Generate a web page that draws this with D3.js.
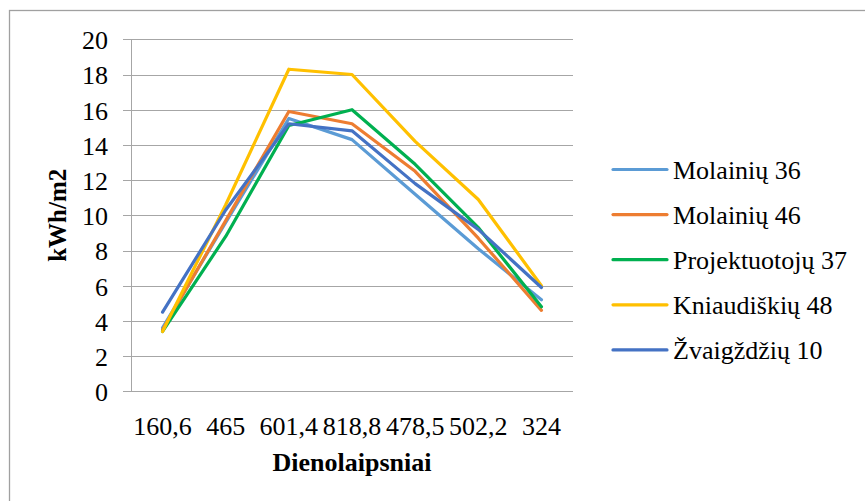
<!DOCTYPE html>
<html lang="lt">
<head>
<meta charset="UTF-8" />
<title>Dienolaipsniai</title>
<style>
  html, body {
    margin: 0;
    padding: 0;
    background: #fff;
    overflow: hidden;
  }
  svg {
    display: block;
  }
  .grid line {
    stroke: #a6a6a6;
    stroke-width: 1px;
  }
  .series {
    fill: none;
    stroke-width: 3.2px;
    stroke-linejoin: round;
    stroke-linecap: round;
  }
</style>
</head>
<body>
<svg width="865" height="501"></svg>

<script src="https://d3js.org/d3.v7.min.js"></script>
<script>
// data
const categories = ["160,6", "465", "601,4", "818,8", "478,5", "502,2", "324"];
const seriesNames = ["Molainių 36", "Molainių 46", "Projektuotojų 37", "Kniaudiškių 48", "Žvaigždžių 10"];
const molainiu36 = [3.6, 9.6, 15.5, 14.3, 11.2, 8.1, 5.2];
const molainiu46 = [3.5, 9.7, 15.9, 15.2, 12.5, 8.7, 4.6];
const projektuotoju37 = [3.4, 8.8, 15.1, 16.0, 12.9, 9.3, 4.8];
const kniaudiskiu48 = [3.4, 10.6, 18.3, 18.0, 14.2, 10.9, 6.0];
const zvaigzdziu10 = [4.5, 10.3, 15.2, 14.8, 11.8, 9.2, 5.9];
const yTicks = [0, 2, 4, 6, 8, 10, 12, 14, 16, 18, 20];

const colors = ["#5B9BD5", "#ED7D31", "#00B050", "#FFC000", "#4472C4"];
const seriesValues = [molainiu36, molainiu46, projektuotoju37, kniaudiskiu48, zvaigzdziu10];

const serif = "Liberation Serif, DejaVu Serif, serif";
const svg = d3.select("svg");

// outer chart border (runs off the right/bottom of the picture)
svg.append("rect")
  .attr("x", 9.5).attr("y", 10.5)
  .attr("width", 900).attr("height", 520)
  .attr("fill", "none")
  .attr("stroke", "#a0a0a0")
  .attr("stroke-width", 1.3);

const plot = { left: 131, top: 39.3, right: 573, bottom: 391.3 };

const x = d3.scaleBand()
  .domain(categories)
  .range([plot.left, plot.right])
  .padding(0);

const y = d3.scaleLinear()
  .domain([0, 20])
  .range([plot.bottom, plot.top]);

// horizontal gridlines, sticking a bit out to the left of the axis
svg.append("g")
  .attr("class", "grid")
  .selectAll("line")
  .data(yTicks)
  .join("line")
  .attr("x1", plot.left - 8)
  .attr("x2", plot.right)
  .attr("y1", d => Math.round(y(d)) + 0.5)
  .attr("y2", d => Math.round(y(d)) + 0.5);

// vertical axis line
svg.append("line")
  .attr("x1", plot.left + 0.5).attr("x2", plot.left + 0.5)
  .attr("y1", y(20)).attr("y2", y(0))
  .attr("stroke", "#a6a6a6");

// y tick labels
const yAxis = d3.axisLeft(y)
  .tickValues(yTicks)
  .tickSize(0)
  .tickPadding(23);

svg.append("g")
  .attr("transform", `translate(${plot.left},0)`)
  .call(yAxis)
  .attr("font-family", serif)
  .attr("font-size", 26)
  .call(g => g.select(".domain").remove())
  .call(g => g.selectAll("text")
    .attr("fill", "#000")
    .attr("dy", "0.36em"));

// x tick labels
const xAxis = d3.axisBottom(x).tickSize(0).tickPadding(0);
svg.append("g")
  .attr("transform", `translate(0,${plot.bottom})`)
  .call(xAxis)
  .attr("font-family", serif)
  .attr("font-size", 26)
  .call(g => g.select(".domain").remove())
  .call(g => g.selectAll("text")
    .attr("fill", "#000")
    .attr("dy", null)
    .attr("y", 435 - plot.bottom));

// axis titles
svg.append("text")
  .attr("x", (plot.left + plot.right) / 2)
  .attr("y", 471)
  .attr("text-anchor", "middle")
  .attr("font-family", serif)
  .attr("font-size", 26)
  .attr("font-weight", "bold")
  .text("Dienolaipsniai");

svg.append("text")
  .attr("transform", `translate(66,${(plot.top + plot.bottom) / 2}) rotate(-90)`)
  .attr("text-anchor", "middle")
  .attr("font-family", serif)
  .attr("font-size", 25)
  .attr("font-weight", "bold")
  .text("kWh/m2");

// series lines
const line = d3.line()
  .x((d, i) => x(categories[i]) + x.bandwidth() / 2)
  .y(d => y(d));

svg.append("g")
  .selectAll("path")
  .data(seriesValues)
  .join("path")
  .attr("class", "series")
  .attr("stroke", (d, i) => colors[i])
  .attr("d", line);

// legend
const legend = svg.append("g")
  .attr("font-family", serif)
  .attr("font-size", 26)
  .selectAll("g")
  .data(seriesNames)
  .join("g")
  .attr("transform", (d, i) => `translate(613,${169.5 + i * 45.1})`);

legend.append("line")
  .attr("x1", 0).attr("x2", 54)
  .attr("stroke", (d, i) => colors[i])
  .attr("stroke-width", 3.2)
  .attr("stroke-linecap", "round");

legend.append("text")
  .attr("x", 60)
  .attr("y", 9.5)
  .attr("fill", "#000")
  .text(d => d);
</script>
</body>
</html>
